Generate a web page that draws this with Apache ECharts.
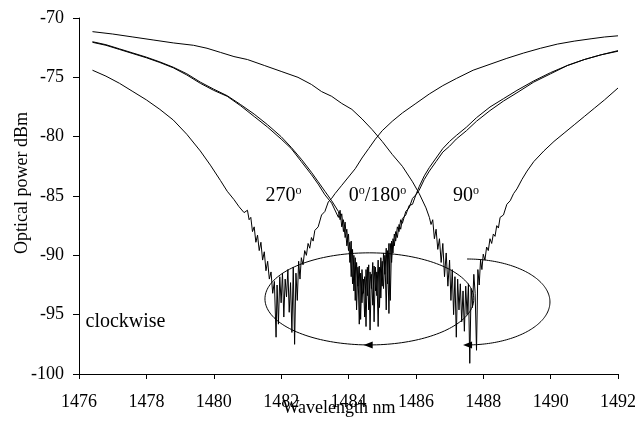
<!DOCTYPE html>
<html><head><meta charset="utf-8">
<script src="https://cdn.jsdelivr.net/npm/echarts@6/dist/echarts.min.js"></script>
<style>html,body{margin:0;padding:0;background:#fff}#c{width:644px;height:423px}</style>
</head><body><div id="c"></div>
<script>
// Wavelength (nm), optical power (dBm) pairs
const trace270 = [
[1476.4,-74.4],[1476.8,-74.9],[1477.2,-75.5],[1477.6,-76.2],[1478.0,-76.9],[1478.4,-77.7],[1478.8,-78.6],[1479.2,-79.8],[1479.6,-81.2],[1479.9,-82.4],[1480.2,-83.7],[1480.4,-84.6],[1480.6,-85.3],[1480.75,-85.9],[1480.9,-86.4],
[1481.00,-86.2],[1481.05,-87.0],[1481.10,-86.8],[1481.15,-88.0],[1481.20,-87.6],[1481.25,-88.9],[1481.30,-88.3],[1481.35,-89.6],[1481.40,-88.9],[1481.45,-90.4],[1481.50,-89.7],[1481.55,-91.3],[1481.60,-90.5],[1481.65,-92.0],[1481.70,-91.4],[1481.75,-93.2],[1481.80,-92.2],[1481.85,-96.9],[1481.88,-92.5],[1481.92,-95.8],[1481.96,-91.8],[1482.00,-94.0],[1482.04,-91.5],[1482.08,-95.2],[1482.12,-92.0],[1482.16,-93.5],[1482.20,-91.2],[1482.24,-94.8],[1482.28,-92.3],[1482.32,-96.5],[1482.36,-91.0],[1482.40,-97.5],[1482.44,-91.5],[1482.48,-93.8],[1482.52,-90.5],[1482.56,-92.0],[1482.60,-90.2],[1482.65,-90.8],[1482.70,-89.6],[1482.75,-90.0],[1482.80,-89.0],[1482.85,-89.4],[1482.90,-88.5],[1482.95,-88.8],[1483.00,-87.9],[1483.10,-87.6],[1483.20,-86.6],[1483.30,-86.3],[1483.40,-85.5],[1483.50,-85.2],
[1483.6,-84.8],[1483.8,-84.1],[1484.0,-83.4],[1484.2,-82.7],[1484.4,-81.8],[1484.6,-81.0],[1484.8,-80.2],[1485.0,-79.5],[1485.3,-78.7],[1485.6,-78.0],[1486.0,-77.2],[1486.4,-76.4],[1486.8,-75.7],[1487.2,-75.1],[1487.7,-74.4],[1488.2,-73.9],[1488.7,-73.4],[1489.2,-72.95],[1489.7,-72.55],[1490.2,-72.2],[1490.7,-71.95],[1491.2,-71.75],[1491.6,-71.6],[1492.0,-71.5]
];
const trace0a = [
[1476.4,-72.05],[1476.8,-72.3],[1477.2,-72.65],[1477.6,-73.0],[1478.0,-73.35],[1478.4,-73.75],[1478.8,-74.2],[1479.2,-74.8],[1479.6,-75.5],[1480.0,-76.1],[1480.4,-76.6],[1480.8,-77.4],[1481.2,-78.3],[1481.6,-79.2],[1482.0,-80.2],[1482.3,-81.0],[1482.6,-82.1],[1482.9,-83.2],[1483.1,-84.0],[1483.3,-84.9],[1483.5,-85.6],
[1483.70,-86.8],[1483.75,-86.2],[1483.80,-87.6],[1483.85,-87.0],[1483.90,-88.5],[1483.95,-87.8],[1484.00,-89.6],[1484.04,-88.9],[1484.08,-91.8],[1484.12,-89.5],[1484.16,-93.0],[1484.20,-90.2],[1484.24,-94.6],[1484.28,-91.0],[1484.32,-95.8],[1484.36,-91.5],[1484.40,-94.0],[1484.44,-92.0],[1484.48,-95.2],[1484.52,-91.2],[1484.56,-93.4],[1484.60,-90.8],[1484.64,-96.3],[1484.68,-91.6],[1484.72,-94.2],[1484.76,-90.9],[1484.80,-93.0],[1484.84,-91.4],[1484.88,-96.0],[1484.92,-91.0],[1484.96,-93.6],[1485.00,-90.5],[1485.04,-92.8],[1485.08,-90.0],[1485.12,-94.6],[1485.16,-89.6],[1485.20,-94.9],[1485.24,-89.0],[1485.28,-90.6],[1485.32,-88.6],[1485.36,-89.2],[1485.40,-88.0],[1485.45,-88.5],[1485.50,-87.4],[1485.55,-87.8],[1485.60,-86.9],[1485.70,-86.6],[1485.80,-85.8],[1485.90,-85.7],[1486.00,-84.9],[1486.10,-84.5],
[1486.25,-83.6],[1486.4,-82.9],[1486.6,-82.1],[1486.8,-81.3],[1487.0,-80.8],[1487.2,-80.2],[1487.5,-79.5],[1487.8,-78.7],[1488.2,-77.8],[1488.6,-77.0],[1489.0,-76.3],[1489.5,-75.4],[1490.0,-74.7],[1490.5,-74.0],[1491.0,-73.5],[1491.5,-73.1],[1492.0,-72.8]
];
const trace0b = [
[1476.4,-72.0],[1476.8,-72.25],[1477.2,-72.6],[1477.6,-72.95],[1478.0,-73.3],[1478.4,-73.7],[1478.8,-74.15],[1479.2,-74.7],[1479.6,-75.4],[1480.0,-76.0],[1480.4,-76.55],[1480.8,-77.3],[1481.2,-78.1],[1481.6,-79.0],[1482.0,-80.0],[1482.3,-80.9],[1482.6,-81.9],[1482.9,-83.0],[1483.1,-83.8],[1483.3,-84.6],[1483.5,-85.4],
[1483.70,-86.3],[1483.75,-87.0],[1483.80,-86.5],[1483.85,-88.0],[1483.90,-87.2],[1483.95,-89.2],[1484.00,-88.2],[1484.04,-90.6],[1484.08,-88.8],[1484.12,-92.4],[1484.16,-90.0],[1484.20,-93.8],[1484.24,-90.6],[1484.28,-92.6],[1484.32,-90.9],[1484.36,-95.4],[1484.40,-91.2],[1484.44,-93.2],[1484.48,-91.8],[1484.52,-96.0],[1484.56,-91.0],[1484.60,-94.6],[1484.64,-91.4],[1484.68,-92.8],[1484.72,-90.6],[1484.76,-95.6],[1484.80,-91.0],[1484.84,-93.4],[1484.88,-90.4],[1484.92,-94.4],[1484.96,-90.2],[1485.00,-92.6],[1485.04,-89.8],[1485.08,-91.6],[1485.12,-89.4],[1485.16,-92.4],[1485.20,-89.0],[1485.24,-93.8],[1485.28,-88.8],[1485.32,-89.8],[1485.36,-88.2],[1485.40,-88.8],[1485.45,-87.6],[1485.50,-88.0],[1485.55,-87.0],[1485.60,-87.3],[1485.70,-86.3],[1485.80,-86.0],[1485.90,-85.2],[1486.00,-84.9],[1486.10,-84.2],
[1486.25,-83.3],[1486.4,-82.6],[1486.6,-81.8],[1486.8,-81.0],[1487.0,-80.4],[1487.2,-79.9],[1487.5,-79.2],[1487.8,-78.4],[1488.2,-77.5],[1488.6,-76.8],[1489.0,-76.1],[1489.5,-75.3],[1490.0,-74.6],[1490.5,-74.0],[1491.0,-73.5],[1491.5,-73.1],[1492.0,-72.75]
];
const trace90 = [
[1476.4,-71.15],[1477.0,-71.35],[1477.6,-71.6],[1478.2,-71.85],[1478.8,-72.1],[1479.4,-72.3],[1479.8,-72.55],[1480.2,-72.9],[1480.6,-73.25],[1481.0,-73.5],[1481.5,-74.0],[1482.0,-74.5],[1482.5,-75.0],[1482.9,-75.6],[1483.2,-76.2],[1483.5,-76.6],[1483.8,-77.2],[1484.1,-77.7],[1484.4,-78.5],[1484.7,-79.4],[1485.0,-80.4],[1485.3,-81.5],[1485.6,-82.5],[1485.9,-83.8],[1486.1,-84.8],[1486.3,-86.0],
[1486.40,-86.8],[1486.45,-87.4],[1486.50,-87.0],[1486.55,-88.6],[1486.60,-87.8],[1486.65,-89.5],[1486.70,-88.6],[1486.75,-90.6],[1486.80,-89.0],[1486.85,-91.8],[1486.90,-89.8],[1486.95,-92.6],[1487.00,-90.4],[1487.04,-93.8],[1487.08,-91.2],[1487.12,-95.0],[1487.16,-91.8],[1487.20,-96.9],[1487.24,-92.0],[1487.28,-94.6],[1487.32,-92.4],[1487.36,-95.6],[1487.40,-93.0],[1487.44,-96.4],[1487.48,-92.6],[1487.52,-95.0],[1487.56,-92.4],[1487.60,-99.1],[1487.64,-92.8],[1487.68,-94.4],[1487.72,-91.6],[1487.76,-93.2],[1487.80,-98.0],[1487.84,-91.2],[1487.88,-92.5],[1487.92,-90.4],[1487.96,-91.2],[1488.00,-89.9],[1488.05,-90.4],[1488.10,-89.3],[1488.15,-89.6],[1488.20,-88.6],[1488.25,-89.0],[1488.30,-88.2],[1488.35,-88.4],[1488.40,-87.5],[1488.45,-87.7],[1488.50,-86.8],[1488.60,-86.6],[1488.70,-85.7],[1488.80,-85.4],[1488.90,-84.8],
[1489.0,-84.4],[1489.15,-83.6],[1489.3,-82.9],[1489.5,-82.1],[1489.8,-81.2],[1490.1,-80.4],[1490.4,-79.7],[1490.7,-79.0],[1491.0,-78.3],[1491.3,-77.6],[1491.6,-76.9],[1492.0,-75.9]
];
const xTicks = [1476,1478,1480,1482,1484,1486,1488,1490,1492];
const yTicks = [-100,-95,-90,-85,-80,-75,-70];

const FONT = "'Liberation Serif','Times New Roman',serif";
const chart = echarts.init(document.getElementById('c'), null, {renderer:'canvas'});
const mkSeries = (d) => ({type:'line', data:d, showSymbol:false, symbol:'none', lineStyle:{color:'#000', width:1}, animation:false, z:3});
chart.setOption({
  animation:false,
  backgroundColor:'#fff',
  grid:{left:79, right:26, top:18, bottom:49, containLabel:false},
  xAxis:{type:'value', min:xTicks[0], max:xTicks[xTicks.length-1], interval:2,
    axisLine:{lineStyle:{color:'#000', width:1}}, axisTick:{length:5, lineStyle:{color:'#000'}},
    splitLine:{show:false}, axisLabel:{color:'#000', fontFamily:FONT, fontSize:18, margin:19, showMinLabel:true, showMaxLabel:true, formatter:(v)=>String(v)}},
  yAxis:{type:'value', min:yTicks[0], max:yTicks[yTicks.length-1], interval:5,
    axisLine:{show:true, lineStyle:{color:'#000', width:1}}, axisTick:{show:true, length:6, lineStyle:{color:'#000'}},
    splitLine:{show:false}, axisLabel:{color:'#000', fontFamily:FONT, fontSize:18, margin:15, showMinLabel:true, showMaxLabel:true, formatter:(v)=>String(v)}},
  series:[mkSeries(trace270), mkSeries(trace0a), mkSeries(trace0b), mkSeries(trace90)]
});

// annotations
const px = (p) => chart.convertToPixel({gridIndex:0}, p);
function ellipsePts(cx, cy, rx, ry, t0, t1, n){
  const pts=[];
  for(let i=0;i<=n;i++){const t=t0+(t1-t0)*i/n; pts.push(px([cx+rx*Math.cos(t), cy+ry*Math.sin(t)]));}
  return pts;
}
function arrow(p){ // tip pointing left
  return {type:'polygon', shape:{points:[[p[0],p[1]],[p[0]+9,p[1]-3.5],[p[0]+9,p[1]+3.5]]}, style:{fill:'#000'}, z:10};
}
const g = [];
g.push({type:'polyline', shape:{points:ellipsePts(1484.62,-93.67,3.1,3.88,0,2*Math.PI,180)}, style:{stroke:'#000', lineWidth:1, fill:null}, z:10});
g.push({type:'polyline', shape:{points:ellipsePts(1487.52,-93.93,2.46,3.62,Math.PI/2,-Math.PI/2,120)}, style:{stroke:'#000', lineWidth:1, fill:null}, z:10});
g.push(arrow(px([1484.45,-97.55])));
g.push(arrow(px([1487.40,-97.55])));
const rich = {m:{fontFamily:FONT, fontSize:20, color:'#000', lineHeight:22}, s:{fontFamily:FONT, fontSize:12, color:'#000', verticalAlign:'top', lineHeight:22, padding:[0,0,9,0]}};
const L = [
  {str:'{m|270}{s|o}', at:[1482.07,-84.95]},
  {str:'{m|0}{s|o}{m|/180}{s|o}', at:[1484.86,-84.95]},
  {str:'{m|90}{s|o}', at:[1487.49,-84.95]}
];
L.forEach(l=>{const p=px(l.at); g.push({type:'text', x:p[0], y:p[1], style:{text:l.str, rich:rich, align:'center', verticalAlign:'middle'}, z:10});});
const pc = px([1477.38,-95.6]);
g.push({type:'text', x:pc[0], y:pc[1], style:{text:'clockwise', fontFamily:FONT, fontSize:20, fill:'#000', align:'center', verticalAlign:'middle'}, z:10});
g.push({type:'text', x:339, y:408, style:{text:'Wavelength nm', fontFamily:FONT, fontSize:18, fill:'#000', align:'center', verticalAlign:'middle'}, z:10});
g.push({type:'text', x:22, y:183, rotation:Math.PI/2, style:{text:'Optical power dBm', fontFamily:FONT, fontSize:18, fill:'#000', align:'center', verticalAlign:'middle'}, z:10});
chart.setOption({graphic:g});
</script></body></html>
